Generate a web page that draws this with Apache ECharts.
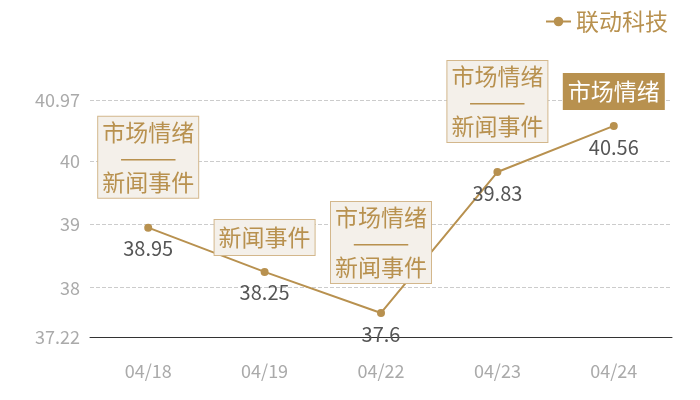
<!DOCTYPE html>
<html>
<head>
<meta charset="utf-8">
<script src="https://cdn.jsdelivr.net/npm/echarts@6/dist/echarts.min.js"></script>
<style>
html, body { margin: 0; padding: 0; background: #fff; }
#main { width: 700px; height: 400px; }
</style>
</head>
<body>
<div id="main"></div>
<script>
// 数据
const dates = ['04/18', '04/19', '04/22', '04/23', '04/24']
const prices = [38.95, 38.25, 37.6, 39.83, 40.56]
const notes = ['市场情绪\n———\n新闻事件', '新闻事件', '市场情绪\n———\n新闻事件', '市场情绪\n———\n新闻事件', '市场情绪']
const highlighted = [false, false, false, false, true]
const yMin = 37.22
const yMax = 40.97

const gold = '#b8914f'

let myChart = echarts.init(document.querySelector('#main'))

// 标注框
let marks = dates.map((d, i) => {
    let multi = notes[i].indexOf('\n') > -1
    let hot = highlighted[i]
    return {
        coord: [d, prices[i]],
        label: {
            formatter: notes[i],
            color: hot ? '#fff' : gold,
            backgroundColor: hot ? gold : '#f4f0ea',
            borderColor: hot ? gold : '#d3b78c',
            distance: multi ? 30 : 17,
            lineHeight: multi ? 25 : 29
        }
    }
})

const option = {
    textStyle: {
        fontFamily: 'Noto Sans CJK SC'
    },
    legend: {
        data: ['联动科技'],
        right: 27,
        top: 5,
        itemWidth: 25,
        itemHeight: 12,
        textStyle: {
            color: gold,
            fontSize: 23
        }
    },
    grid: {
        left: 90,
        right: 28,
        top: 100,
        bottom: 63
    },
    xAxis: {
        type: 'category',
        data: dates,
        axisLine: {
            lineStyle: { color: '#333', width: 1 }
        },
        axisTick: { show: false },
        axisLabel: {
            color: '#aaa',
            fontSize: 18,
            margin: 25
        }
    },
    yAxis: {
        type: 'value',
        min: yMin,
        max: yMax,
        axisLine: { show: false },
        axisTick: { show: false },
        axisLabel: {
            color: '#aaa',
            fontSize: 18,
            margin: 10
        },
        splitLine: {
            lineStyle: { color: '#ccc', type: 'dashed' }
        }
    },
    series: [
        {
            name: '联动科技',
            type: 'line',
            data: prices,
            symbol: 'circle',
            symbolSize: 8,
            color: gold,
            lineStyle: { width: 2, color: gold },
            label: {
                show: true,
                position: 'bottom',
                distance: 7,
                color: '#555',
                fontSize: 20
            },
            markPoint: {
                symbol: 'circle',
                symbolSize: 0,
                label: {
                    show: true,
                    position: 'top',
                    fontSize: 23,
                    borderWidth: 1,
                    padding: [3, 4]
                },
                data: marks
            }
        }
    ]
}

myChart.setOption(option)
</script>
</body>
</html>
